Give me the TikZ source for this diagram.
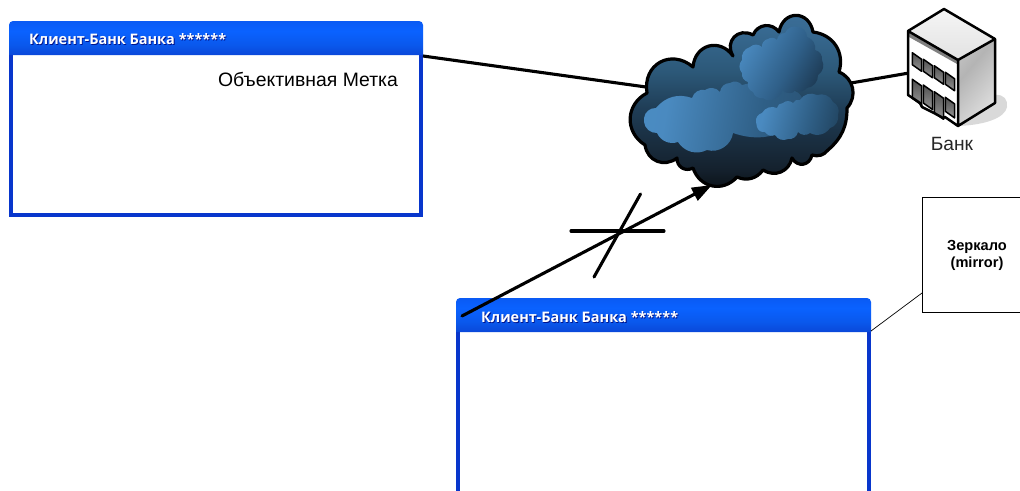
\documentclass[tikz,border=0pt]{standalone}
\usepackage{fontspec}
\setmainfont{Liberation Sans}
\newfontfamily\titlefont{Open Sans}
\usetikzlibrary{arrows.meta}
\definecolor{winborder}{HTML}{0836CC}
\definecolor{titleshadow}{HTML}{00128A}
\definecolor{ca}{HTML}{14202C}
\definecolor{cb}{HTML}{1F3D56}
\definecolor{cc}{HTML}{2C5878}
\definecolor{ce}{HTML}{386A92}
\definecolor{cd}{HTML}{4580B4}
\definecolor{la}{HTML}{4C8FC8}
\definecolor{lb}{HTML}{4A8AC0}
\definecolor{lc}{HTML}{2F5F88}
\definecolor{ld}{HTML}{14283A}
\definecolor{le}{HTML}{2F5F86}
\definecolor{lf}{HTML}{1C3A52}
\definecolor{lg}{HTML}{264A68}
\definecolor{ta}{HTML}{0A3CCB}
\definecolor{tb}{HTML}{0A58EC}
\definecolor{tc}{HTML}{0A62FF}
\definecolor{td}{HTML}{0A56EE}
\definecolor{te}{HTML}{2E80F2}
\pgfdeclareverticalshading{cloudsky}{100bp}{color(0bp)=(black);color(20bp)=(black);color(31bp)=(ca);color(48bp)=(cb);color(58bp)=(cc);color(70bp)=(ce);color(100bp)=(cd)}
\pgfdeclarehorizontalshading{lumpblue}{100bp}{color(0bp)=(la);color(25bp)=(lb);color(55bp)=(lc);color(85bp)=(ld);color(100bp)=(ld)}
\pgfdeclarehorizontalshading{lumpsoft}{100bp}{color(0bp)=(la);color(28bp)=(lb);color(58bp)=(le);color(85bp)=(lf);color(100bp)=(lf)}
\pgfdeclarehorizontalshading{lumpwide}{100bp}{color(0bp)=(la);color(30bp)=(lb);color(62bp)=(le);color(90bp)=(lg);color(100bp)=(lg)}
\pgfdeclareverticalshading{titlebar}{100bp}{color(0bp)=(ta);color(14bp)=(ta);color(40bp)=(tb);color(60bp)=(tc);color(84bp)=(td);color(90bp)=(te);color(100bp)=(te)}
\definecolor{ga}{HTML}{B4B4B4}
\definecolor{gc}{HTML}{D8D8D8}
\definecolor{gd}{HTML}{2E2E2E}
\definecolor{ge}{HTML}{B8B8B8}
\pgfdeclarehorizontalshading{wallshade}{100bp}{color(0bp)=(gc);color(38bp)=(ga);color(100bp)=(white)}
\pgfdeclareverticalshading{roofshade}{100bp}{color(0bp)=(gc);color(100bp)=(white)}
\pgfdeclareverticalshading{paneshade}{100bp}{color(0bp)=(ge);color(100bp)=(gd)}
\tikzset{
  x=1pt,y=-1pt,
  wire/.style={line width=3.1pt,black},
  thinwire/.style={line width=0.7pt,black},
  bmp/.style={bend left=70,looseness=1.4},
  mbmp/.style={bend left=60,looseness=1.2},
  sbmp/.style={bend left=42,looseness=1},
  outline/.style={line width=3.2pt,black,line join=round,shade,shading=cloudsky},
  lump/.style={shade,shading=lumpblue,shading angle=-30},
  softlump/.style={shade,shading=lumpsoft,shading angle=-15},
  widelump/.style={shade,shading=lumpwide,shading angle=-10},
  titletext/.style={font=\titlefont\bfseries\fontsize{14.5}{16}\selectfont,anchor=west,inner sep=0pt},
  plain/.style={font=\fontsize{19.4}{22}\selectfont,inner sep=0pt},
  noteface/.style={font=\bfseries\fontsize{14.6}{17.5}\selectfont,align=center,inner sep=0pt},
  pane/.style={draw=black,line width=1.5pt,line join=round,shade,shading=paneshade},
  edge/.style={line width=2.5pt,black,line join=round}
}
\begin{document}
\begin{tikzpicture}
\clip (0,0) rectangle (1020,490);
\fill[white] (0,0) rectangle (1020,490);

% connector end points
\coordinate (w1right) at (423,56);
\coordinate (cloudW) at (646,87);
\coordinate (cloudE) at (851,83);
\coordinate (bankW) at (909,73);
\coordinate (w2tail) at (462,316);
\coordinate (cloudS) at (712,185);
\coordinate (w2corner) at (871,331);
\coordinate (noteSW) at (922,293);
\coordinate (crossW) at (571,231);
\coordinate (crossE) at (664,231);
\coordinate (crossS) at (594,277);
\coordinate (crossN) at (640.5,194);

% upper window
\fill[winborder] (9,50) rectangle (423,217);
\fill[white] (13,55) rectangle (419,213);
\shade[shading=titlebar] (9,55) [rounded corners=4pt] -- (9,21) -- (423,21) [sharp corners] -- (423,55) -- cycle;
\node[titletext,text=titleshadow] (t1s) at (29.8,39.8) {Клиент-Банк Банка ******};
\node[titletext,text=white] (t1) at (29,39) {Клиент-Банк Банка ******};
\node[plain] (objective) at (308,79) {Объективная Метка};

% lower window
\fill[winborder] (456,325) rectangle (871,500);
\fill[white] (460,332) rectangle (867,500);
\shade[shading=titlebar] (456,332) [rounded corners=4pt] -- (456,298) -- (871,298) [sharp corners] -- (871,332) -- cycle;
\node[titletext,text=titleshadow] (t2s) at (481.8,317.8) {Клиент-Банк Банка ******};
\node[titletext,text=white] (t2) at (481,317) {Клиент-Банк Банка ******};

% connectors
\draw[wire] (w1right) -- (cloudW);
\draw[wire] (cloudE) -- (bankW);
\draw[wire,line cap=round] (crossW) -- (crossE);
\draw[wire,line cap=round] (crossS) -- (crossN);
\draw[wire,line cap=round,-{Triangle[length=20pt,width=14pt]}] (w2tail) -- (cloudS);

% note
\node[draw=black,line width=0.8pt,fill=white,minimum width=110pt,minimum height=115pt,anchor=north west,inner sep=0pt] (note) at (922,197) {};
\node[noteface] (notetext) at (977,255.5) {Зеркало\\(mirror)};
\draw[thinwire] (w2corner) -- (noteSW);

% cloud
\draw[outline] (647,93) to[bmp] (693,67) to[bmp] (733,56)
  to[bend left=75,looseness=1.5] (753,35) to[mbmp] (779,32) to[bend left=80,looseness=1.7] (813,32)
  to[bend left=50,looseness=1.1] (839,72) to[bend left=55,looseness=1.1] (847,108) to[bend left=25] (828,150)
  to[bend left=35] (812,155) to[bmp] (792,158) to[bend left=55,looseness=1.15] (763,170) to[bend left=40] (737,177)
  to[mbmp] (693,168) to[mbmp] (677,158) to[mbmp] (645,145)
  to[mbmp] (647,93) -- cycle;
% lumps in the cloud
\path[widelump] (644,118) to[sbmp] (656,108) to[bend left=35] (692,98) to[sbmp] (705,90) to[sbmp] (720,92) to[sbmp] (730,83) to[sbmp] (742,85) to[bend left=20] (790,90) to[bend left=35] (803,100) to[bend left=30] (800,120) to[bend left=30] (733,133) to[bend left=50] (707,150) to[sbmp] (678,142) to[sbmp] (657,133) to[sbmp] (644,122) -- cycle;
\path[lump] (742,60) to[sbmp] (750,47) to[sbmp] (762,47) to[sbmp] (768,39) to[sbmp] (777,40) to[sbmp] (785,33) to[sbmp] (798,27) to[sbmp] (807,37) to[sbmp] (815,50) to[sbmp] (822,60) to[sbmp] (818,75) to[sbmp] (807,88) to[sbmp] (795,90) to[sbmp] (790,93) to[sbmp] (782,88) to[sbmp] (775,98) to[sbmp] (763,98) to[sbmp] (753,92) to[sbmp] (748,82) to[sbmp] (742,73) to[sbmp] (742,60) -- cycle;
\path[softlump] (756,122) to[sbmp] (762,113) to[sbmp] (777,108) to[sbmp] (783,103) to[sbmp] (793,103) to[sbmp] (800,100) to[sbmp] (817,95) to[sbmp] (833,102) to[sbmp] (838,115) to[sbmp] (830,128) to[sbmp] (810,133) to[sbmp] (798,132) to[sbmp] (788,139) to[sbmp] (775,135) to[sbmp] (765,132) to[sbmp] (757,127) -- cycle;

% bank building
\fill[black!15] (958,126) -- (995,95) .. controls (1004,94) and (1008,100) .. (1007,107) .. controls (1005,118) and (985,125) .. (958,126) -- cycle;
\shade[shading=wallshade,shading angle=-40] (958,60) -- (995,39) -- (995,103) -- (958,126) -- cycle;
\shade[shading=roofshade] (908,31) -- (944,9) -- (995,39) -- (958,60) -- cycle;
\fill[white] (908,31) -- (958,60) -- (958,126) -- (945,117) -- (943,118) -- (934,113) -- (922,107) -- (920,103) -- (908,95) -- cycle;
\fill[black!50] (909,33) -- (958,60.5) -- (958,64.5) -- (909,37) -- cycle;
\draw[white,line width=1pt] (959,60) -- (994,40);
\foreach \wx/\wy in {912.3/52.7, 923.3/59.2, 934.3/65.7, 945.3/72.2}{
  \draw[pane] (\wx,\wy) -- (\wx+9.3,\wy+6.6) -- (\wx+9.3,\wy+18.6) -- (\wx,\wy+12) -- cycle;
}
\foreach \wx/\wy/\wh in {912.3/79.3/19, 923.3/85/18, 934.3/91.7/21, 945.3/97.3/14}{
  \draw[pane] (\wx,\wy) -- (\wx+9.3,\wy+6.6) -- (\wx+9.3,\wy+6.6+\wh) -- (\wx,\wy+\wh) -- cycle;
}
\draw[edge] (908,31) -- (944,9) -- (995,39) -- (995,103) -- (958,126) -- (958,60) -- (908,31) -- (908,95) -- (920,103) -- (922,107) -- (934,113) -- (943,118) -- (945,117) -- (958,126);
\draw[edge] (958,60) -- (995,39);
\node[plain,font=\fontsize{19.2}{22}\selectfont,text=black!85] (bank) at (952,143.5) {Банк};
\end{tikzpicture}
\end{document}
